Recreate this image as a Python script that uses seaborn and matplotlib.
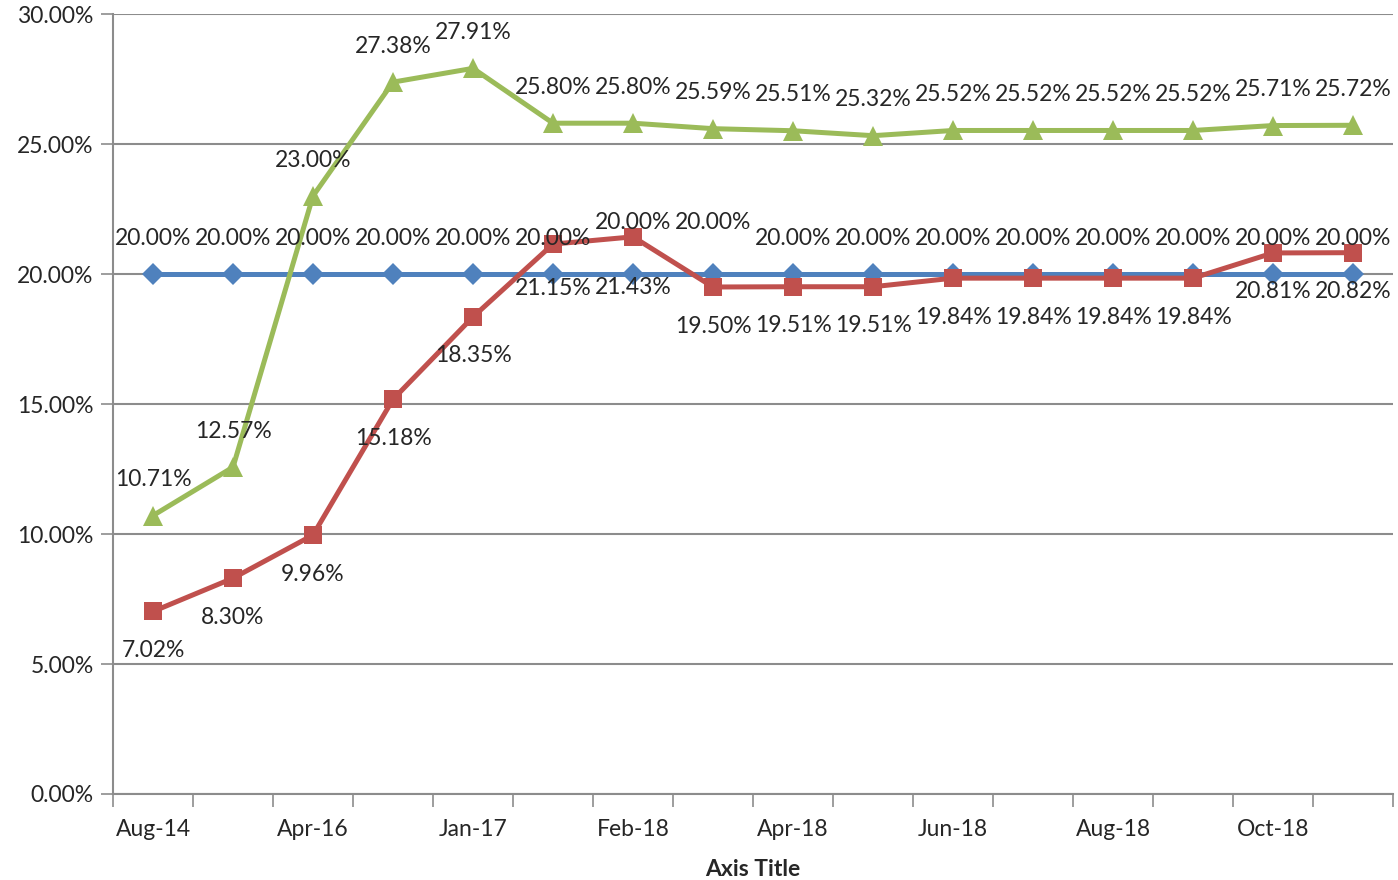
import numpy as np
import pandas as pd
import matplotlib
matplotlib.use("Agg")
import matplotlib.pyplot as plt
from matplotlib.ticker import FuncFormatter, FixedLocator
import seaborn as sns

# data (percent)
categories = ["Aug-14", "Dec-15", "Apr-16", "Sep-16", "Jan-17", "Sep-17", "Feb-18", "Mar-18",
              "Apr-18", "May-18", "Jun-18", "Jul-18", "Aug-18", "Sep-18", "Oct-18", "Nov-18"]
blue_vals = [20.00] * 16
red_vals = [7.02, 8.30, 9.96, 15.18, 18.35, 21.15, 21.43, 19.50,
            19.51, 19.51, 19.84, 19.84, 19.84, 19.84, 20.81, 20.82]
green_vals = [10.71, 12.57, 23.00, 27.38, 27.91, 25.80, 25.80, 25.59,
              25.51, 25.32, 25.52, 25.52, 25.52, 25.52, 25.71, 25.72]
shown_labels = categories[::2]

BLUE, RED, GREEN = "#4F81BD", "#C0504D", "#9BBB59"
GRID = "#8C8C8C"
FS = 16.5

sns.set_theme(style="white")
plt.rcParams["font.family"] = ["Lato", "DejaVu Sans"]

idx = np.arange(len(categories))
df = pd.DataFrame({
    "idx": np.tile(idx, 3),
    "value": np.concatenate([blue_vals, red_vals, green_vals]) / 100,
    "series": ["blue"] * 16 + ["red"] * 16 + ["green"] * 16,
})

fig = plt.figure(figsize=(13.98, 8.8), dpi=100)
ax = fig.add_axes([113 / 1398, 1 - 794 / 880, 1280 / 1398, 780 / 880])

for name, color, marker, ms in [("blue", BLUE, "D", 11), ("red", RED, "s", 13), ("green", GREEN, "^", 14)]:
    sub = df[df["series"] == name]
    sns.lineplot(data=sub, x="idx", y="value", color=color, linewidth=3.6,
                 marker=marker, markersize=ms, markeredgewidth=0, ax=ax, legend=False)

# data labels
for i, v in enumerate(blue_vals):
    off = 52 if i in (6, 7) else 36
    ax.annotate(f"{v:.2f}%", (i, v / 100), xytext=(0, off), textcoords="offset pixels",
                ha="center", va="center", fontsize=FS)
for i, v in enumerate(red_vals):
    off = -44 if i == 5 else (-51 if i == 6 else -39)
    ax.annotate(f"{v:.2f}%", (i, v / 100), xytext=(0, off), textcoords="offset pixels",
                ha="center", va="center", fontsize=FS)
for i, v in enumerate(green_vals):
    ax.annotate(f"{v:.2f}%", (i, v / 100), xytext=(0, 36), textcoords="offset pixels",
                ha="center", va="center", fontsize=FS)

ax.set_xlim(-0.5, len(categories) - 0.5)
ax.set_ylim(0, 0.30)
ax.set_yticks(np.arange(0, 0.301, 0.05))
ax.yaxis.set_major_formatter(FuncFormatter(lambda y, _: f"{y * 100:.2f}%"))
ax.yaxis.grid(True, color=GRID, linewidth=1.5)
ax.set_axisbelow(True)

# tick marks between categories, labels on every second category
ax.xaxis.set_major_locator(FixedLocator(np.arange(-0.5, len(categories), 1)))
ax.xaxis.set_major_formatter(FuncFormatter(lambda x, _: ""))
ax.xaxis.set_minor_locator(FixedLocator(idx[::2]))
ax.set_xticklabels(shown_labels, minor=True)
ax.tick_params(axis="x", which="major", length=9, width=1.2, color=GRID, direction="out", bottom=True)
ax.tick_params(axis="x", which="minor", length=0, pad=18, labelsize=FS)
ax.tick_params(axis="y", length=9, width=1.2, color=GRID, direction="out", left=True, labelsize=FS, pad=5)

for s in ["top", "right"]:
    ax.spines[s].set_visible(False)
for s in ["left", "bottom"]:
    ax.spines[s].set_color(GRID)
    ax.spines[s].set_linewidth(1.5)

ax.set_ylabel("")
ax.set_xlabel("Axis Title", fontsize=FS, fontweight="bold", labelpad=14)

fig.savefig("out.png", dpi=100)
